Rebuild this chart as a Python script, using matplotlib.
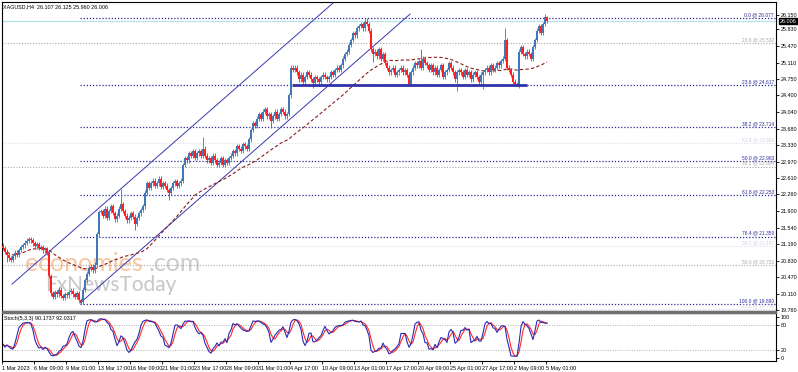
import numpy as np
import pandas as pd
import matplotlib
matplotlib.use("Agg")
import matplotlib.pyplot as plt
from matplotlib.patches import Rectangle

plt.rcParams['font.family'] = ['Liberation Sans', 'DejaVu Sans']

# ---------------- data ----------------
header = "XAGUSD,H4  26.107 26.125 25.960 26.006"
stoch_header = "Stoch(5,3,3) 90.1737 92.0317"

first_open = 21.15
closes = [
    21.10, 21.02, 20.95, 20.88, 20.85,
    20.92, 21.00, 20.96, 21.06, 21.12, 21.16, 21.22, 21.26, 21.30, 21.27,
    21.20, 21.14, 21.19, 21.10, 21.12, 21.05, 21.08, 21.00,
    20.50, 20.12,
    20.05, 20.15, 20.10, 20.20, 20.06, 20.02, 20.10, 20.08, 20.15, 20.18, 20.10, 20.05, 20.12, 19.98, 19.94,
    20.20, 20.40, 20.55, 20.66,
    20.70, 20.62, 20.74,
    21.40, 21.88,
    21.90, 21.80, 21.95, 21.76, 21.90, 22.00, 21.86, 21.72, 21.80, 21.95, 22.05, 21.90, 21.80, 21.70, 21.76, 21.85,
    21.78, 21.62, 21.75, 21.85, 21.92, 22.00,
    22.30, 22.50,
    22.40, 22.50, 22.56, 22.45, 22.50, 22.60, 22.42, 22.50, 22.45, 22.36, 22.30, 22.40, 22.50, 22.55, 22.45, 22.50, 22.56,
    22.90, 23.05,
    23.00, 23.15, 23.10, 23.20, 23.05, 23.15, 23.20, 23.10, 23.25,
    23.10, 23.00, 23.05, 22.95, 23.10, 23.00, 22.90, 22.95, 23.05, 22.90, 23.00, 22.95,
    23.05, 23.10, 23.20, 23.15, 23.30, 23.25, 23.20, 23.35, 23.30, 23.25,
    23.45, 23.65, 23.80, 23.75, 23.90,
    24.00, 23.90, 24.05, 24.10, 23.95, 24.00, 23.85, 23.95, 24.05, 23.90, 24.00, 24.10, 24.05, 23.95, 24.00,
    24.40, 25.00, 24.95,
    25.00, 24.90, 24.75, 24.85, 24.70, 24.80, 24.90, 24.85, 24.75, 24.66, 24.80, 24.75, 24.70, 24.80, 24.85,
    24.80, 24.75, 24.80, 24.90, 24.85, 24.95, 25.00, 24.95,
    25.05, 25.20, 25.30, 25.35, 25.50, 25.60, 25.75, 25.70, 25.85, 25.90,
    25.95, 25.85, 26.00, 25.95, 25.80,
    25.40, 25.30, 25.35,
    25.25, 25.40, 25.20, 25.30, 25.10,
    25.00, 24.90, 24.95, 25.00, 24.85, 24.90, 24.95, 25.00, 24.90, 24.95, 24.85,
    24.65,
    24.90, 25.00, 25.10, 25.05, 25.15, 25.00, 25.20, 25.10, 25.05, 24.95,
    25.05, 24.90, 25.00, 24.85, 24.95, 25.05, 24.80, 24.90, 24.95, 25.10, 25.00, 24.90, 24.75, 24.90,
    24.95, 24.90, 24.80, 24.95, 24.85, 24.90, 24.75, 24.85, 24.90, 24.80, 24.70, 24.85, 24.90,
    24.95, 25.00, 24.90, 25.05, 24.95, 25.00, 25.10, 25.05, 25.15, 25.20,
    25.60, 25.00,
    24.95, 24.85, 24.70, 24.65, 24.62,
    25.35, 25.45,
    25.30, 25.25, 25.35, 25.30, 25.20,
    25.45, 25.60,
    25.80, 25.90, 25.75,
    25.95, 26.107, 26.006,
]
wick = 0.05
high_spikes = {59: 22.37, 100: 23.50, 182: 26.08, 209: 25.40, 251: 25.87, 272: 26.125}
low_spikes = {2: 20.80, 39: 19.89, 66: 21.50, 83: 22.15, 134: 23.70, 155: 24.57,
              158: 24.60, 185: 25.13, 203: 24.60, 227: 24.50, 240: 24.53, 257: 24.60, 272: 25.96}

date_labels = ["1 Mar 2023", "6 Mar 09:00", "9 Mar 01:00", "13 Mar 17:00", "16 Mar 09:00",
               "21 Mar 01:00", "23 Mar 17:00", "28 Mar 09:00", "31 Mar 01:00", "4 Apr 17:00",
               "10 Apr 09:00", "13 Apr 01:00", "17 Apr 17:00", "20 Apr 09:00", "25 Apr 01:00",
               "27 Apr 17:00", "2 May 09:00", "5 May 01:00"]
bars_per_label = 16

price_ticks = [26.150, 25.830, 25.470, 25.110, 24.750, 24.400, 24.040, 23.680, 23.330, 22.970,
               22.610, 22.260, 21.900, 21.540, 21.190, 20.830, 20.470, 20.110, 19.760]
current_price = 26.006

fib_main_pct = [0.0, 23.6, 38.2, 50.0, 61.8, 76.4, 100.0]
fib_main_val = [26.077, 24.617, 23.714, 22.983, 22.253, 21.350, 19.890]
fib_grey_pct = [23.6, 38.2, 50.0]
fib_grey_val = [25.532, 22.864, 20.731]
fib_light_pct = [23.6, 38.2, 61.8]
fib_light_val = [19.783, 21.147, 23.363]

support_level = 24.617
support_span = (144.3, 262.0)
channel_lower = ((38.5, 19.91), (203.5, 26.16))
channel_upper_start = (4.5, 20.32)

ma_period = 50
stoch_k, stoch_slow, stoch_d = 5, 3, 3

# ---------------- derived ----------------
n = len(closes)
c = np.array(closes)
o = np.array([first_open] + closes[:-1])
hi = np.maximum(o, c) + wick
lo = np.minimum(o, c) - wick
for k, v in high_spikes.items():
    hi[k] = v
for k, v in low_spikes.items():
    lo[k] = v
idx = np.arange(n)

ma = pd.Series(c).rolling(ma_period, min_periods=1).mean().values
hh = pd.Series(hi).rolling(stoch_k, min_periods=1).max()
ll = pd.Series(lo).rolling(stoch_k, min_periods=1).min()
num = (pd.Series(c) - ll).rolling(stoch_slow, min_periods=1).sum()
den = (hh - ll).rolling(stoch_slow, min_periods=1).sum()
k_line = (100 * num / den).values
d_line = pd.Series(k_line).rolling(stoch_d, min_periods=1).mean().values

# ---------------- layout ----------------
W, H = 798, 372
fig = plt.figure(figsize=(W / 100, H / 100), dpi=100)
fig.patch.set_facecolor('white')

def box(l, t, r, b):
    return [l / W, 1 - b / H, (r - l) / W, (b - t) / H]

ax = fig.add_axes(box(2, 2, 776, 311))
sx = fig.add_axes(box(2, 313, 776, 361))

XL = (-0.5, 386.5)
YL = (19.739, 26.422)
ax.set_xlim(*XL)
ax.set_ylim(*YL)
sx.set_xlim(*XL)
sx.set_ylim(-7.3, 109.8)

TXT = 3.9
FIBT = 3.5
NAVY = '#2a2a9c'

# watermark
ax.text(0.030, 0.128, "economies", transform=ax.transAxes, fontsize=18, family='Lato',
        color='#f9c6a2', zorder=0, va='baseline')
ax.text(0.190, 0.128, ".com", transform=ax.transAxes, fontsize=18, family='Lato',
        color='#cccccc', zorder=0, va='baseline')
ax.text(0.056, 0.066, "FxNewsToday", transform=ax.transAxes, fontsize=15, family='Lato',
        color='#c6c6c6', zorder=0, va='baseline')

# fib levels
xr = XL[1]
for p, v in zip(fib_light_pct, fib_light_val):
    ax.hlines(v, XL[0], xr, colors='#dcdcea', linestyles=(0, (1, 1.5)), lw=0.8, zorder=1)
    ax.text(xr - 1, v + 0.02, f"{p:.1f} @ {v:.3f}", fontsize=FIBT, color='#d0d0e2', ha='right', va='bottom')
for p, v in zip(fib_grey_pct, fib_grey_val):
    ax.hlines(v, XL[0], xr, colors='#a8a8a8', linestyles=(0, (1, 1.5)), lw=0.8, zorder=1)
    ax.text(xr - 1, v + 0.02, f"{p:.1f} @ {v:.3f}", fontsize=FIBT, color='#a8a8a8', ha='right', va='bottom')
for p, v in zip(fib_main_pct, fib_main_val):
    ax.hlines(v, 38.5, xr, colors=NAVY, linestyles=(0, (1, 1.5)), lw=0.9, zorder=1)
    ax.text(xr - 1, v + 0.02, f"{p:.1f} @ {v:.3f}", fontsize=FIBT, color=NAVY, ha='right', va='bottom')

# current price line
ax.axhline(current_price, color='#b4e4ea', lw=0.9, zorder=1)

# channel
(x0, y0), (x1, y1) = channel_lower
slope = (y1 - y0) / (x1 - x0)
ax.plot([x0, x1], [y0, y1], color='#3838b0', lw=0.7, zorder=2)
ux0, uy0 = channel_upper_start
ux1 = ux0 + 170
ax.plot([ux0, ux1], [uy0, uy0 + slope * (ux1 - ux0)], color='#3838b0', lw=0.7, zorder=2)

# moving average
ax.plot(idx, ma, color='#8b1c1c', lw=0.8, ls=(0, (3, 2)), zorder=2)

# candles
up = c >= o
cols = np.where(up, '#3f78b8', '#ff1f1f')
ax.vlines(idx, lo, hi, colors=cols, lw=0.6, zorder=3)
body = np.maximum(np.abs(c - o), 0.012)
ax.bar(idx, body, bottom=np.minimum(o, c), width=0.75, color=cols, linewidth=0, zorder=4)

# support line
ax.hlines(support_level, support_span[0], support_span[1], colors='#3232a8', lw=2.0, zorder=5)

# axes styling main
ax.yaxis.tick_right()
ax.set_yticks(price_ticks)
ax.set_yticklabels([f"{t:.3f}" for t in price_ticks], fontsize=TXT)
ax.tick_params(axis='y', length=2, width=0.6, pad=1.5, colors='black')
ax.set_xticks([])
for s in ax.spines.values():
    s.set_color('black'); s.set_linewidth(0.8)

# price box
ax.text(1.0045, (current_price - YL[0]) / (YL[1] - YL[0]),
        f"{current_price:.3f}", transform=ax.transAxes, fontsize=TXT, color='white', va='center',
        ha='left', bbox=dict(boxstyle='square,pad=0.12', fc='black', ec='black'), zorder=10,
        clip_on=False)

fig.text(3 / W, 1 - 7 / H, header, fontsize=TXT, va='center', ha='left', color='black')

# stochastic
sx.axhline(80, color='#b0b0b0', ls=(0, (1, 1.5)), lw=0.7)
sx.axhline(20, color='#b0b0b0', ls=(0, (1, 1.5)), lw=0.7)
sx.plot(idx, d_line, color='#ff2a2a', lw=0.8)
sx.plot(idx, k_line, color='#2a2ab4', lw=0.8)
sx.yaxis.tick_right()
sx.set_yticks([100, 80, 20, 0])
sx.set_yticklabels(["100", "80", "20", "0"], fontsize=TXT)
sx.tick_params(axis='y', length=2, width=0.6, pad=1.5)
ticks = [i * bars_per_label - 0.5 for i in range(len(date_labels))]
sx.set_xticks(ticks)
sx.set_xticklabels(date_labels, fontsize=TXT)
for lb in sx.get_xticklabels():
    lb.set_ha('left')
sx.tick_params(axis='x', length=2, width=0.6, pad=1.5)
for s in sx.spines.values():
    s.set_color('black'); s.set_linewidth(0.8)
sx.text(0.002, 0.93, stoch_header, transform=sx.transAxes, fontsize=TXT, va='top', ha='left')

# separator between panels
fig.add_artist(Rectangle((2 / W, 1 - 313 / H), 774 / W, 2.5 / H, transform=fig.transFigure,
                         color='#707070', zorder=20))

fig.savefig("out.png", dpi=100)
